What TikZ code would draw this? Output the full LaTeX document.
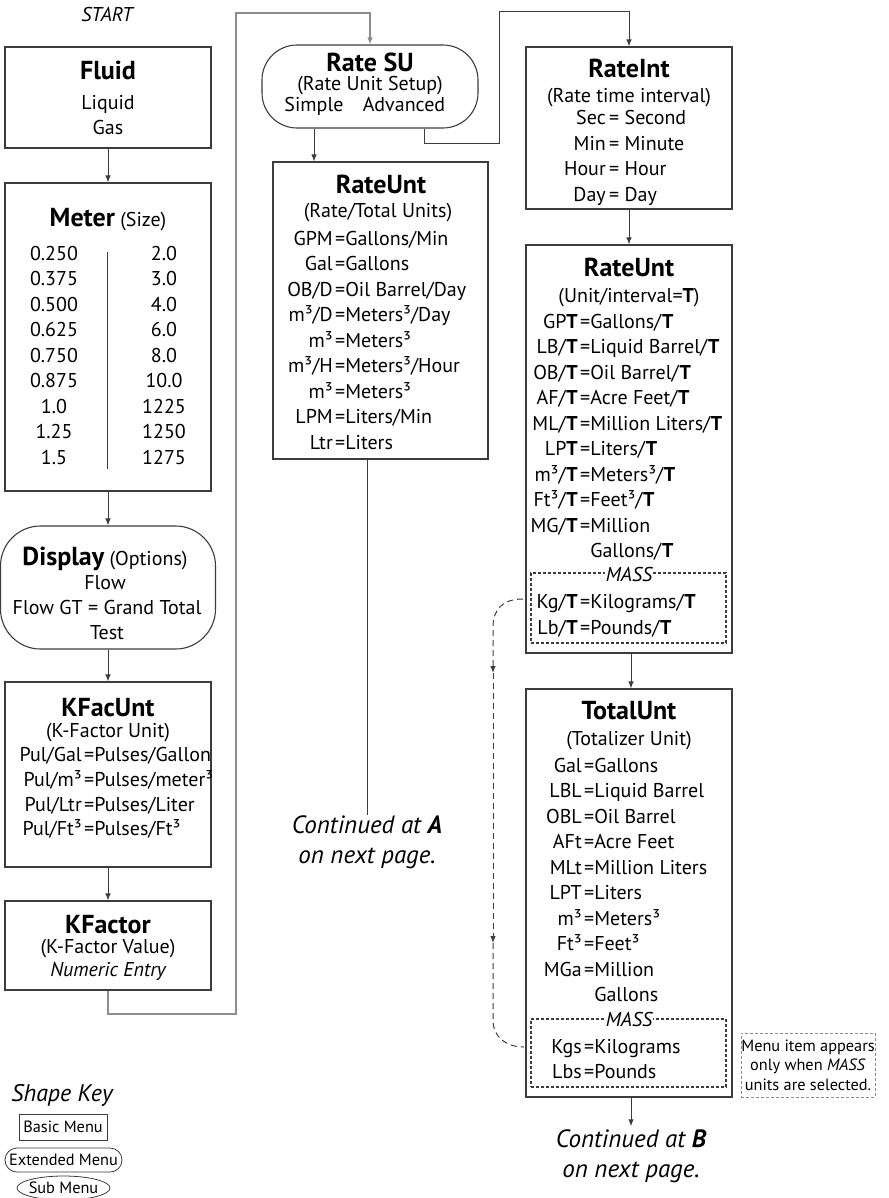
\documentclass[tikz,border=0pt]{standalone}
\usepackage{fontspec}
\setmainfont{PT Sans}
\usetikzlibrary{arrows.meta,calc}
\definecolor{ln}{HTML}{3C3C3C}
\definecolor{rl}{HTML}{8C8C8C}
\newcommand\fbody{\fontsize{20}{25.5}\selectfont}
\newcommand\ftitle{\fontsize{26}{30}\selectfont\bfseries}
\newcommand\fsmall{\fontsize{16.3}{19.5}\selectfont}
\newcommand\fcont{\fontsize{25}{30}\selectfont\itshape}
\newcommand\eqr[5]{\node[txt,anchor=mid east] (#1l) at (#2-2,#3) {#4};\node[txt,anchor=mid west] (#1r) at (#2,#3) {=#5};}
\begin{document}
\begin{tikzpicture}[x=1pt,y=-1pt,
  box/.style={draw=ln,line width=1.1pt,rectangle,inner sep=0pt},
  txt/.style={inner sep=0pt,anchor=mid,font=\fbody,yshift=-4.5pt},
  ttl/.style={txt,font=\ftitle,yshift=-2.2pt},
  arr/.style={draw=ln,line width=1pt,-{Latex[length=7pt,width=5.5pt]}},
  lineonly/.style={draw=ln,line width=1pt},
  ret/.style={draw=rl,line width=1.4pt},
  massbox/.style={draw=ln,line width=1.1pt,dash pattern=on 3pt off 2pt,rectangle,inner sep=0pt},
  masslbl/.style={txt,font=\fbody\itshape,fill=white,inner xsep=1pt},
  dashln/.style={draw=ln,line width=1pt,dash pattern=on 6pt off 4pt},
  dtip/.style={-{Latex[length=7pt,width=5.5pt]}},
  cont/.style={inner sep=0pt,align=center,font=\fcont},
  notebox/.style={draw=rl,line width=1pt,dash pattern=on 3pt off 2pt,inner sep=0pt,align=center,font=\fsmall,minimum width=134pt,minimum height=64pt}
]
\useasboundingbox (0,0) rectangle (888,1198);

% ---------------- left column ----------------
\node[txt,font=\fbody\itshape] (start) at (107,15) {START};

\node[box,minimum width=206pt,minimum height=101pt] (fluid) at (108,97.5) {};
\node[ttl] (fluidT) at (108,70) {Fluid};
\node[txt] (liquid) at (108,103) {Liquid};
\node[txt] (gas) at (108,128) {Gas};

\node[box,minimum width=206pt,minimum height=308pt] (meter) at (108,337) {};
\node[txt,yshift=-1.5pt] (meterT) at (108,218) {{\ftitle Meter} (Size)};
\foreach \a/\b [count=\i] in {0.250/2.0,0.375/3.0,0.500/4.0,0.625/6.0,0.750/8.0,0.875/10.0,1.0/1225,1.25/1250,1.5/1275}{
  \node[txt] (mL\i) at (54,227.5+25.5*\i) {\a};
  \node[txt] (mR\i) at (164,227.5+25.5*\i) {\b};
}
\draw[lineonly] (107,252) -- (107,469);

\node[box,rounded corners=40pt,minimum width=215pt,minimum height=123pt] (display) at (108,587.5) {};
\node[txt,yshift=-1.5pt] (dispT) at (105,557) {{\ftitle Display} (Options)};
\node[txt] (flow) at (105,582) {Flow};
\node[txt] (flowgt) at (107,607) {Flow GT = Grand Total};
\node[txt] (test) at (107,632) {Test};

\node[box,minimum width=206pt,minimum height=185pt] (kfacunt) at (108,774.5) {};
\node[ttl] (kfuT) at (108,707) {KFacUnt};
\node[txt] (kfuS) at (108,730) {(K-Factor Unit)};
\eqr{k1}{84}{754}{Pul/Gal}{Pulses/Gallon}
\eqr{k2}{84}{779}{Pul/m³}{Pulses/meter³}
\eqr{k3}{84}{804}{Pul/Ltr}{Pulses/Liter}
\eqr{k4}{84}{828}{Pul/Ft³}{Pulses/Ft³}

\node[box,minimum width=206pt,minimum height=89pt] (kfactor) at (108,945.5) {};
\node[ttl] (kfT) at (108,924) {KFactor};
\node[txt] (kfS) at (108,946) {(K-Factor Value)};
\node[txt,font=\fbody\itshape] (kfN) at (108,969) {Numeric Entry};

\draw[arr] (fluid) -- (meter);
\draw[arr] (meter) -- (display);
\draw[arr] (display) -- (kfacunt);
\draw[arr] (kfacunt) -- (kfactor);

% ---------------- middle column ----------------
\node[box,rounded corners=35pt,minimum width=216pt,minimum height=83pt] (ratesu) at (370,86.5) {};
\node[ttl] (rsuT) at (370,62) {Rate SU};
\node[txt] (rsuS) at (370,84) {(Rate Unit Setup)};
\node[txt] (simple) at (314,105) {Simple};
\node[txt] (advanced) at (404,105) {Advanced};

\coordinate (r1) at (236,1014);
\coordinate (r2) at (236,13);
\draw[ret,-{Latex[length=7pt,width=5.5pt]}] (kfactor.south) |- (r1) -- (r2) -| (ratesu.north);

\node[box,minimum width=215pt,minimum height=297pt] (rateunt1) at (380.5,310.5) {};
\node[ttl] (ru1T) at (381,184) {RateUnt};
\node[txt] (ru1S) at (378,211) {(Rate/Total Units)};
\eqr{a1}{335}{238}{GPM}{Gallons/Min}
\eqr{a2}{335}{263.5}{Gal}{Gallons}
\eqr{a3}{335}{289}{OB/D}{Oil Barrel/Day}
\eqr{a4}{335}{314.5}{m³/D}{Meters³/Day}
\eqr{a5}{335}{340}{m³}{Meters³}
\eqr{a6}{335}{365.5}{m³/H}{Meters³/Hour}
\eqr{a7}{335}{391}{m³}{Meters³}
\eqr{a8}{335}{416.5}{LPM}{Liters/Min}
\eqr{a9}{335}{442}{Ltr}{Liters}

\draw[arr] (ratesu.south -| simple) -- (rateunt1.north -| simple);

\node[cont] (contA) at (367,842) {Continued at \textbf{A}\\on next page.};
\draw[lineonly] (rateunt1.south -| contA.north) -- (contA.north);

% ---------------- right column ----------------
\node[box,minimum width=206pt,minimum height=162pt] (rateint) at (629,128) {};
\node[ttl] (riT) at (629,68) {RateInt};
\node[txt] (riS) at (629,96) {(Rate time interval)};
\node[txt,anchor=mid east] (ri1l) at (606,118) {Sec};  \node[txt,anchor=mid west] (ri1r) at (609,118) {= Second};
\node[txt,anchor=mid east] (ri2l) at (606,144) {Min};  \node[txt,anchor=mid west] (ri2r) at (609,144) {= Minute};
\node[txt,anchor=mid east] (ri3l) at (606,169) {Hour}; \node[txt,anchor=mid west] (ri3r) at (609,169) {= Hour};
\node[txt,anchor=mid east] (ri4l) at (606,195) {Day};  \node[txt,anchor=mid west] (ri4r) at (609,195) {= Day};

\coordinate (b1) at (499,144);
\coordinate (b2) at (499,12);
\draw[arr] (ratesu.south -| 424,0) |- (b1) -- (b2) -| (rateint.north);

\node[box,minimum width=206pt,minimum height=408pt] (rateunt2) at (629,449) {};
\node[ttl] (ru2T) at (629,267) {RateUnt};
\node[txt] (ru2S) at (629,295) {(Unit/interval=\textbf{T})};
\eqr{b1}{580}{321}{GP\textbf{T}}{Gallons/\textbf{T}}
\eqr{b2}{580}{346.5}{LB/\textbf{T}}{Liquid Barrel/\textbf{T}}
\eqr{b3}{580}{372}{OB/\textbf{T}}{Oil Barrel/\textbf{T}}
\eqr{b4}{580}{397.5}{AF/\textbf{T}}{Acre Feet/\textbf{T}}
\eqr{b5}{580}{423}{ML/\textbf{T}}{Million Liters/\textbf{T}}
\eqr{b6}{580}{448.5}{LP\textbf{T}}{Liters/\textbf{T}}
\eqr{b7}{580}{474}{m³/\textbf{T}}{Meters³/\textbf{T}}
\eqr{b8}{580}{499.5}{Ft³/\textbf{T}}{Feet³/\textbf{T}}
\eqr{b9}{580}{525}{MG/\textbf{T}}{Million}
\node[txt,anchor=mid west] (b10) at (580,550.5) {\phantom{=}Gallons/\textbf{T}};
\node[massbox,minimum width=195pt,minimum height=70pt] (mass2) at (628.5,608) {};
\node[masslbl] (mass2L) at (629,574) {MASS};
\eqr{b11}{580}{601}{Kg/\textbf{T}}{Kilograms/\textbf{T}}
\eqr{b12}{580}{627}{Lb/\textbf{T}}{Pounds/\textbf{T}}

\draw[arr] (rateint) -- (rateunt2);

\node[box,minimum width=206pt,minimum height=408pt] (totalunt) at (629,893) {};
\node[ttl] (tuT) at (629,710) {TotalUnt};
\node[txt] (tuS) at (629,738) {(Totalizer Unit)};
\eqr{c1}{584}{765}{Gal}{Gallons}
\eqr{c2}{584}{790.5}{LBL}{Liquid Barrel}
\eqr{c3}{584}{816}{OBL}{Oil Barrel}
\eqr{c4}{584}{841.5}{AFt}{Acre Feet}
\eqr{c5}{584}{867}{MLt}{Million Liters}
\eqr{c6}{584}{892.5}{LPT}{Liters}
\eqr{c7}{584}{918}{m³}{Meters³}
\eqr{c8}{584}{943.5}{Ft³}{Feet³}
\eqr{c9}{584}{969}{MGa}{Million}
\node[txt,anchor=mid west] (c10) at (584,994.5) {\phantom{=}Gallons};
\node[massbox,minimum width=195pt,minimum height=68pt] (mass3) at (628.5,1053) {};
\node[masslbl] (mass3L) at (629,1019) {MASS};
\eqr{c11}{584}{1046}{Kgs}{Kilograms}
\eqr{c12}{584}{1071}{Lbs}{Pounds}

\draw[arr] (rateunt2.south -| 631,0) -- (totalunt.north -| 631,0);

\node[cont] (contB) at (631,1156) {Continued at \textbf{B}\\on next page.};
\draw[arr,shorten >=3pt] (totalunt.south -| contB.north) -- (contB.north);

\node[notebox] (note) at (808,1065) {Menu item appears\\only when \textit{MASS}\\units are selected.};

% dashed MASS connector
\coordinate (d0) at (523,599);
\coordinate (d1) at (493,627);
\coordinate (d2) at (493,673);
\coordinate (d3) at (493,943);
\coordinate (d4) at (493,1020);
\coordinate (d5) at (524,1047);
\draw[dashln,dtip] (d0) .. controls (503,599) and (493,609) .. (d1) -- (d2);
\draw[dashln,dtip] (d2) -- (d3);
\draw[dashln] (d3) -- (d4) .. controls (493,1037) and (506,1047) .. (d5);

% ---------------- shape key ----------------
\node[txt,font=\fontsize{24}{28}\selectfont\itshape,yshift=-1.5pt] (skey) at (62,1093) {Shape Key};
\node[box,line width=0.8pt,minimum width=88pt,minimum height=26pt,font=\fsmall] (kbasic) at (63,1127) {Basic Menu};
\node[box,line width=0.8pt,rounded corners=12pt,minimum width=117pt,minimum height=24pt,font=\fsmall] (kext) at (63.5,1160) {Extended Menu};
\node[inner sep=0pt,font=\fsmall] (ksub) at (63.5,1188) {Sub Menu};
\draw[draw=ln,line width=0.8pt] (ksub.center) ellipse [x radius=46.5pt, y radius=12pt];
\end{tikzpicture}
\end{document}
